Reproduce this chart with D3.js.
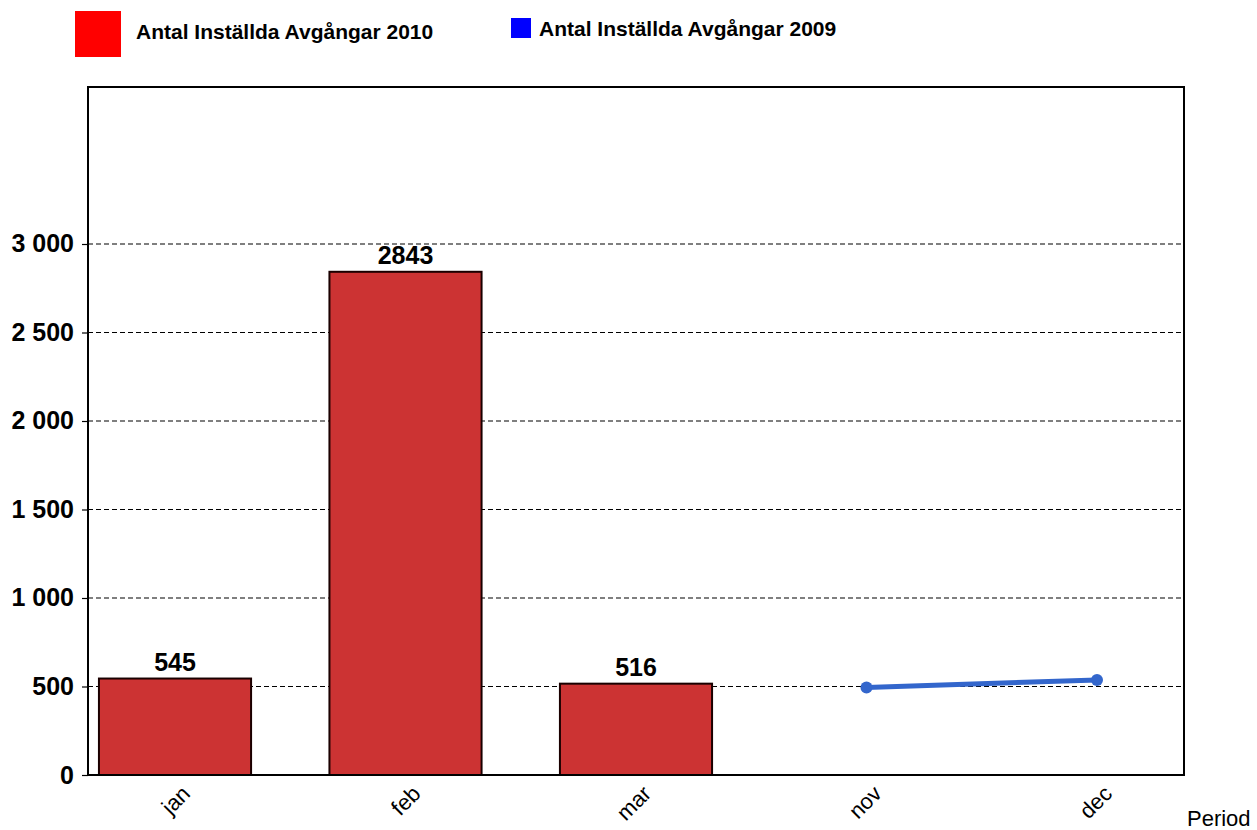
<!DOCTYPE html>
<html>
<head>
<meta charset="utf-8">
<script src="https://cdn.jsdelivr.net/npm/d3@7"></script>
<style>
  body { margin: 0; background: #fff; }
  svg { font-family: Arial, "Liberation Sans", sans-serif; }
</style>
</head>
<body>
<svg id="main" width="1257" height="830"></svg>
<script>
// Data
const months = ['jan', 'feb', 'mar', 'nov', 'dec'];
const bars2010 = [
  { month: 'jan', value: 545 },
  { month: 'feb', value: 2843 },
  { month: 'mar', value: 516 }
];
const line2009 = [
  { month: 'nov', value: 495 },
  { month: 'dec', value: 537 }
];
const yTicks = [0, 500, 1000, 1500, 2000, 2500, 3000];

const svg = d3.select('svg#main');
const plot = { left: 88, right: 1184, top: 87, bottom: 775 };

// Scales
const x = d3.scalePoint()
  .domain(months)
  .range([plot.left, plot.right])
  .padding(0.3775);
const step = x.step();
const barW = step * 0.66;

const y = d3.scaleLinear()
  .domain([0, 3887])
  .range([plot.bottom, plot.top]);

const fmt = v => d3.format(',')(v).replace(/,/g, ' ');

// Grid lines
svg.append('g')
  .selectAll('line')
  .data(yTicks.filter(d => d > 0))
  .join('line')
  .attr('x1', plot.left)
  .attr('x2', plot.right)
  .attr('y1', d => y(d))
  .attr('y2', d => y(d))
  .attr('stroke', '#000')
  .attr('stroke-width', 1.2)
  .attr('stroke-dasharray', '5,3');

// Bars
svg.append('g')
  .selectAll('rect')
  .data(bars2010)
  .join('rect')
  .attr('x', d => x(d.month) - barW / 2)
  .attr('y', d => y(d.value))
  .attr('width', barW)
  .attr('height', d => y(0) - y(d.value))
  .attr('fill', '#cc3333')
  .attr('stroke', '#1a0000')
  .attr('stroke-width', 2);

// Bar labels
svg.append('g')
  .selectAll('text')
  .data(bars2010)
  .join('text')
  .attr('x', d => x(d.month))
  .attr('y', d => y(d.value) - 8)
  .attr('text-anchor', 'middle')
  .attr('font-size', 25)
  .attr('font-weight', 'bold')
  .text(d => d.value);

// Line 2009
const line = d3.line()
  .x(d => x(d.month))
  .y(d => y(d.value));

svg.append('path')
  .datum(line2009)
  .attr('d', line)
  .attr('fill', 'none')
  .attr('stroke', '#3366cc')
  .attr('stroke-width', 5);

svg.append('g')
  .selectAll('circle')
  .data(line2009)
  .join('circle')
  .attr('cx', d => x(d.month))
  .attr('cy', d => y(d.value))
  .attr('r', 6)
  .attr('fill', '#3366cc');

// Frame
svg.append('rect')
  .attr('x', plot.left)
  .attr('y', plot.top)
  .attr('width', plot.right - plot.left)
  .attr('height', plot.bottom - plot.top)
  .attr('fill', 'none')
  .attr('stroke', '#000')
  .attr('stroke-width', 2);

// Y axis labels
const yAxis = svg.append('g')
  .attr('transform', `translate(${plot.left},0)`)
  .call(d3.axisLeft(y).tickValues(yTicks).tickFormat(fmt).tickSize(6).tickPadding(8));
yAxis.select('.domain').remove();
yAxis.selectAll('line').attr('stroke', '#000').attr('stroke-width', 1.2);
yAxis.selectAll('text')
  .attr('font-size', 25)
  .attr('font-weight', 'bold')
  .attr('font-family', 'Arial, "Liberation Sans", sans-serif')
  .attr('fill', '#000');

// X axis labels
const xAxis = svg.append('g')
  .attr('transform', `translate(0,${plot.bottom})`)
  .call(d3.axisBottom(x).tickSize(0));
xAxis.select('.domain').remove();
xAxis.selectAll('text')
  .attr('font-size', 22)
  .attr('font-family', 'Arial, "Liberation Sans", sans-serif')
  .attr('fill', '#000')
  .attr('text-anchor', 'end')
  .attr('dy', null)
  .attr('y', 0)
  .attr('transform', 'translate(16,20) rotate(-45)');

svg.append('text')
  .attr('x', 1187)
  .attr('y', 826)
  .attr('font-size', 22)
  .text('Period');

// Legend
svg.append('rect')
  .attr('x', 75).attr('y', 11).attr('width', 46).attr('height', 46)
  .attr('fill', '#ff0000');
svg.append('text')
  .attr('x', 136).attr('y', 39)
  .attr('font-size', 21).attr('font-weight', 'bold')
  .text('Antal Inställda Avgångar 2010');

svg.append('rect')
  .attr('x', 511).attr('y', 18).attr('width', 20).attr('height', 20)
  .attr('fill', '#0000ff');
svg.append('text')
  .attr('x', 539).attr('y', 36)
  .attr('font-size', 21).attr('font-weight', 'bold')
  .text('Antal Inställda Avgångar 2009');
</script>
</body>
</html>
